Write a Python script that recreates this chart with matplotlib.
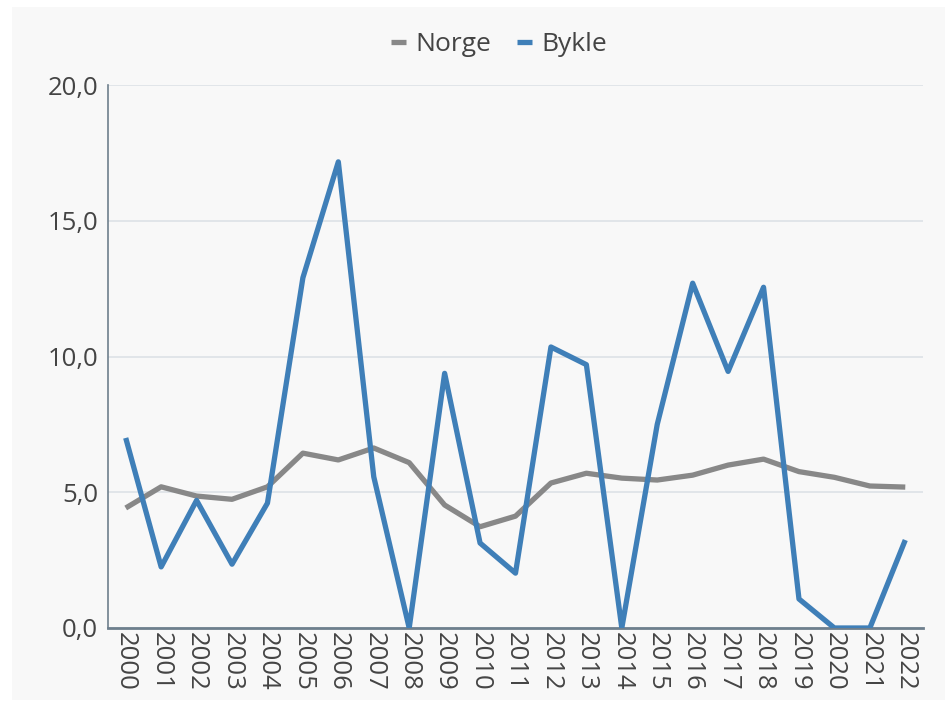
import matplotlib.pyplot as plt

plt.rcParams['font.family'] = ['Open Sans', 'DejaVu Sans']

years = [str(y) for y in range(2000, 2023)]
norge = [4.42, 5.2, 4.86, 4.74, 5.2, 6.44, 6.19, 6.63, 6.09, 4.53, 3.73, 4.12,
         5.34, 5.7, 5.52, 5.45, 5.63, 6.0, 6.22, 5.76, 5.55, 5.23, 5.19]
bykle = [7.0, 2.25, 4.7, 2.35, 4.6, 12.9, 17.17, 5.57, 0.0, 9.38, 3.13, 2.02,
         10.35, 9.7, 0.0, 7.5, 12.7, 9.45, 12.55, 1.07, 0.0, 0.0, 3.24]
y_ticks = [0, 5, 10, 15, 20]
y_labels = ['0,0', '5,0', '10,0', '15,0', '20,0']

fig = plt.figure(figsize=(9.53, 7.1), dpi=100)
fig.patch.set_facecolor('white')
# light grey panel behind the chart
panel = plt.Rectangle((12 / 953, 10 / 710), 933 / 953, 693 / 710,
                      transform=fig.transFigure, facecolor='#f8f8f8',
                      edgecolor='none', zorder=-10)
fig.patches.append(panel)

ax = fig.add_axes([108 / 953, 1 - 628 / 710, 815 / 953, 543 / 710])
ax.set_facecolor('#f8f8f8')
x = list(range(len(years)))
ax.plot(x, norge, color='#888888', lw=3.8, label='Norge', solid_capstyle='butt', zorder=3)
ax.plot(x, bykle, color='#3f7fb8', lw=3.8, label='Bykle', solid_capstyle='butt', zorder=4)

ax.set_xlim(-0.5, len(years) - 0.5)
ax.set_ylim(0, 20)
ax.set_yticks(y_ticks)
ax.set_yticklabels(y_labels)
ax.set_xticks(x)
ax.set_xticklabels(years, rotation=270)
ax.tick_params(axis='y', length=0, pad=7, labelsize=18.5, labelcolor='#444444')
ax.tick_params(axis='x', length=0, pad=3, labelsize=18.5, labelcolor='#444444')
ax.grid(axis='y', color='#dde2e6', lw=1.2)
ax.set_axisbelow(True)
for s in ['top', 'right']:
    ax.spines[s].set_visible(False)
ax.spines['left'].set_color('#6e7f8d')
ax.spines['left'].set_linewidth(1.2)
ax.spines['bottom'].set_color('#6e7f8d')
ax.spines['bottom'].set_linewidth(2)
ax.spines['left'].set_zorder(5)

ax.legend(loc='center', bbox_to_anchor=(0.48, 1.074), ncol=2, frameon=False,
          fontsize=19, handlelength=0.55, handletextpad=0.35, columnspacing=1.0,
          labelcolor='#444444')

fig.savefig('out.png', dpi=100, facecolor='white')
